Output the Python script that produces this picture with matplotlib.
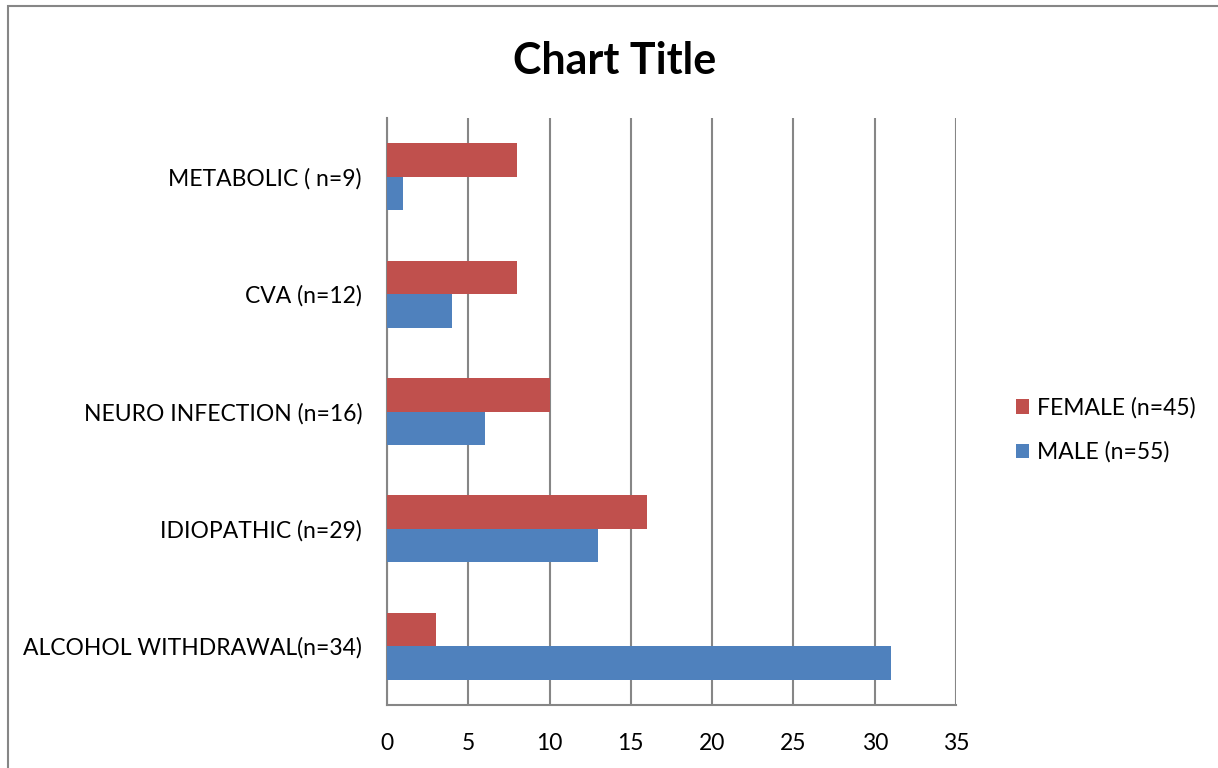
import numpy as np
import matplotlib.pyplot as plt
from matplotlib.patches import Rectangle

categories = [
    "ALCOHOL WITHDRAWAL(n=34)",
    "IDIOPATHIC (n=29)",
    "NEURO INFECTION (n=16)",
    "CVA (n=12)",
    "METABOLIC ( n=9)",
]
male = [31, 13, 6, 4, 1]
female = [3, 16, 10, 8, 8]
series_labels = ["MALE (n=55)", "FEMALE (n=45)"]
xticks = [0, 5, 10, 15, 20, 25, 30, 35]

plt.rcParams["font.family"] = ["Lato", "DejaVu Sans"]

fig = plt.figure(figsize=(12.18, 7.68), dpi=100)
ax = fig.add_axes([387 / 1218, 63 / 768, 569 / 1218, 587 / 768])

y = np.arange(len(categories))
h = 1 / 3.5
ax.barh(y - h / 2, male, height=h, color="#4f81bd", label=series_labels[0], zorder=3)
ax.barh(y + h / 2, female, height=h, color="#c0504d", label=series_labels[1], zorder=3)

ax.set_xlim(0, 35)
ax.set_ylim(-0.5, len(categories) - 0.5)
ax.set_xticks(xticks)
ax.set_yticks(y)
ax.set_yticklabels(categories)
ax.tick_params(axis="both", length=0, labelsize=16.5)
ax.tick_params(axis="y", pad=18)
ax.tick_params(axis="x", pad=20)
ax.xaxis.grid(True, color="#868686", linewidth=1.5, zorder=0)

for side in ["top", "right"]:
    ax.spines[side].set_visible(False)
for side in ["left", "bottom"]:
    ax.spines[side].set_color("#868686")
    ax.spines[side].set_linewidth(1.5)

handles, labels = ax.get_legend_handles_labels()
fig.legend(handles[::-1], labels[::-1], loc="center left",
           bbox_to_anchor=(995 / 1218, 1 - 430 / 768), frameon=False,
           fontsize=16.5, handlelength=0.6, handleheight=0.6,
           handletextpad=0.35, labelspacing=1.0)

fig.text(615 / 1218, 1 - 61 / 768, "Chart Title", ha="center", va="center",
         fontsize=31, fontweight="bold")

# outer chart frame
fig.patches.append(Rectangle((8 / 1218, -0.01), 1.02, 1 - 6 / 768 + 0.01,
                             transform=fig.transFigure, fill=False,
                             edgecolor="#868686", linewidth=1.5))

fig.savefig("out.png", dpi=100)
